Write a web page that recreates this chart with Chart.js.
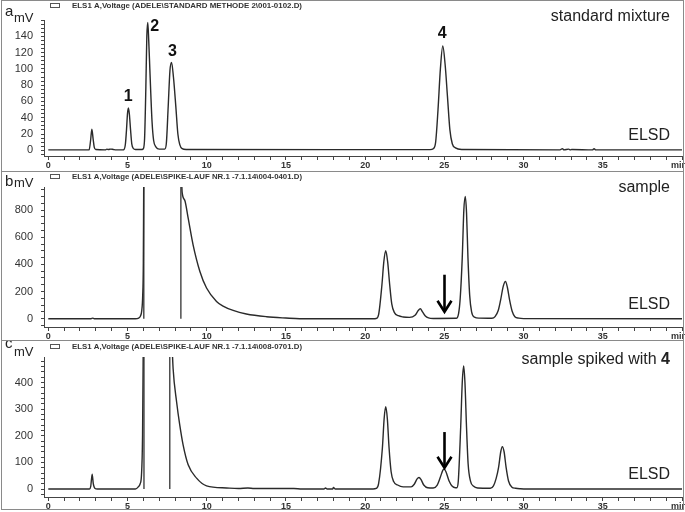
<!DOCTYPE html>
<html><head><meta charset="utf-8">
<script src="https://cdn.jsdelivr.net/npm/chart.js@4/dist/chart.umd.min.js"></script>
<style>
html,body{margin:0;padding:0;background:#fff;}
#wrap{position:relative;width:685px;height:512px;overflow:hidden;}
canvas{position:absolute;left:0;}
.frame{position:absolute;left:1px;top:0;width:681px;height:508px;border:1px solid #8a8a8a;pointer-events:none;}
.sep{position:absolute;left:1px;width:683px;height:1px;background:#8a8a8a;}
</style></head><body>
<div id="wrap">
<canvas id="ca" width="685" height="171" style="top:0"></canvas>
<canvas id="cb" width="685" height="169" style="top:171px"></canvas>
<canvas id="cc" width="685" height="170" style="top:340px"></canvas>
<div class="frame"></div>
<div class="sep" style="top:171px"></div>
<div class="sep" style="top:340px"></div>
</div>
<script>
// ---------- DATA (time in min, signal in mV) ----------
const traceA = [[0,0.5],[2.5,0.5],[2.58,0.6],[2.67,12],[2.75,26],[2.83,14],[2.9,4],[3.0,1],[3.6,0.5],[3.7,1.5],[3.8,1],[3.95,1.5],[4.1,1],[4.3,0.5],
  [4.7,0.5],[4.78,1],[4.87,8],[4.94,26],[5.0,45],[5.06,52],[5.12,44],[5.19,26],[5.27,8],[5.38,2],[5.5,1],
  [5.92,1],[6.0,2],[6.08,15],[6.16,78],[6.22,140],[6.28,157],[6.34,135],[6.41,100],[6.47,70],[6.55,35],[6.65,12],[6.8,4],[7.0,1.5],
  [7.35,1.5],[7.45,8],[7.57,54],[7.68,98],[7.78,108],[7.9,90],[8.05,54],[8.18,20],[8.3,7],[8.45,2],[8.7,1],
  [24.1,0.8],[24.3,2],[24.45,10],[24.6,50],[24.75,100],[24.9,128],[25.05,105],[25.2,65],[25.35,25],[25.5,8],[25.7,3],[26.1,1],
  [32.3,0.5],[32.45,2],[32.55,0.5],[32.85,1.5],[32.95,0.5],[33.05,1],[34.35,0.5],[34.45,2],[34.55,0.5],[40,0.5]];

const traceB = [[0,0],[2.7,0],[2.8,4],[2.9,0],[5.5,0],[5.7,5],[5.82,20],[5.9,60],[5.96,170],[6.0,420],[6.02,900],[6.03,1100],
  [8.38,1100],[8.45,930],[8.62,870],[8.83,740],[9.14,544],[9.57,348],[9.99,226],[10.62,127],[11.0,95],[11.67,61],[12.5,35],[13.77,15],[15.0,5],[15.87,0],
  [20.5,0],[20.7,2],[20.85,30],[21.06,250],[21.18,420],[21.3,500],[21.42,420],[21.55,250],[21.68,110],[21.85,45],[22.1,22],[22.4,13],[22.8,10],
  [23.15,25],[23.35,60],[23.48,73],[23.62,50],[23.8,20],[24.0,6],[24.3,2],
  [25.75,3],[25.9,40],[26.0,150],[26.13,450],[26.23,800],[26.32,900],[26.4,780],[26.49,450],[26.6,170],[26.72,50],[26.9,12],[27.2,4],
  [28.0,3],[28.2,15],[28.4,60],[28.55,137],[28.72,240],[28.86,274],[28.98,230],[29.12,137],[29.28,55],[29.45,15],[29.7,4],[30,1],[40,0]];

const traceC = [[0,0],[2.6,0],[2.68,10],[2.77,56],[2.84,20],[2.95,2],[3.1,0],[5.5,0],[5.68,8],[5.8,20],[5.88,50],[5.95,200],[5.99,500],[6.02,700],
  [7.7,700],[7.8,560],[7.88,452],[8.1,327],[8.3,240],[8.51,166],[8.83,91],[9.36,41],[9.99,12],[11.25,4],[12.0,2],[12.6,4],[13.0,2],[15.5,2],[16.0,0],
  [17.4,0],[17.5,4],[17.6,0],[17.95,0],[18.0,6],[18.1,0],
  [20.5,0],[20.7,2],[20.85,20],[21.09,155],[21.2,265],[21.3,309],[21.4,265],[21.51,155],[21.64,65],[21.8,28],[22.05,15],[22.4,8],
  [22.9,8],[23.1,18],[23.28,38],[23.4,43],[23.52,36],[23.7,15],[23.95,5],
  [24.3,4],[24.55,15],[24.75,45],[24.9,70],[24.98,75],[25.1,65],[25.3,30],[25.5,10],[25.7,5],
  [25.8,5],[25.88,30],[26.03,231],[26.13,400],[26.22,462],[26.3,400],[26.4,231],[26.5,95],[26.65,30],[26.85,10],[27.1,4],
  [27.9,3],[28.1,12],[28.27,40],[28.42,80],[28.56,140],[28.66,159],[28.77,140],[28.9,80],[29.05,30],[29.25,8],[29.5,3],[29.8,1],[30.2,0],[40,0]];

const markerTimesB = [6.03, 8.37];
const markerTimesC = [6.04, 7.67];

const peakNamesA = ['1','2','3','4'];
const peakTimesA = [5.05, 6.71, 7.83, 24.87];
const peakLevelsA = [66, 152, 121, 143];

const arrowTime = 25;
const arrowB = [324, 51];   // mV from, to
const arrowC = [214, 80];

const xTickLabels = [0,5,10,15,20,25,30,35];
const yTickLabelsA = [0,20,40,60,80,100,120,140];
const yTickLabelsB = [0,200,400,600,800];
const yTickLabelsC = [0,100,200,300,400];

const headerA = 'ELS1 A,Voltage (ADELE\\STANDARD METHODE 2\\001-0102.D)';
const headerB = 'ELS1 A,Voltage (ADELE\\SPIKE-LAUF NR.1 -7.1.14\\004-0401.D)';
const headerC = 'ELS1 A,Voltage (ADELE\\SPIKE-LAUF NR.1 -7.1.14\\008-0701.D)';

// ---------- RENDERING ----------
const FONT = '"Liberation Sans", Arial, Helvetica, sans-serif';
Chart.defaults.font.family = FONT;

const X_MIN = -0.27, X_MAX = 40;
const xTickValues = []; for (let v = 0; v <= 40; v++) xTickValues.push(v);

function yTicks(min, max, step){ const t=[]; for(let v=Math.ceil(min/step)*step; v<=max; v+=step) t.push(v); return t; }

const overlay = {
  id: 'overlay',
  afterDatasetsDraw(chart, args, o) {
    const ctx = chart.ctx, xs = chart.scales.x, ys = chart.scales.y;
    ctx.save();
    ctx.textBaseline = 'middle';
    ctx.textAlign = 'left';
    ctx.fillStyle = '#222';
    ctx.font = '15px ' + FONT;
    ctx.fillText(o.letter, 5, o.letterY);
    ctx.font = '13px ' + FONT;
    ctx.fillText('mV', 14, o.mvY);
    // header legend
    ctx.strokeStyle = '#555'; ctx.lineWidth = 1;
    ctx.strokeRect(50.5, o.headerY - 2.5, 9, 4);
    ctx.fillStyle = '#333';
    ctx.font = 'bold 8px ' + FONT;
    ctx.fillText(o.header, 72, o.headerY, 230);
    // title
    ctx.fillStyle = '#222';
    ctx.textAlign = 'right';
    let right = 670;
    if (o.titleBold) {
      ctx.font = 'bold 16px ' + FONT;
      ctx.fillText(o.titleBold, right, o.titleY);
      right -= ctx.measureText(o.titleBold).width;
    }
    ctx.font = '16px ' + FONT;
    ctx.fillText(o.title, right, o.titleY);
    ctx.fillText('ELSD', 670, o.elsdY);
    // min label
    ctx.textAlign = 'left';
    ctx.fillStyle = '#333';
    ctx.font = 'bold 9px ' + FONT;
    ctx.fillText('min', 671, xs.top + 9.5);
    // peak labels
    if (o.peaks) {
      ctx.fillStyle = '#111';
      ctx.font = 'bold 16px ' + FONT;
      ctx.textAlign = 'center';
      o.peaks.names.forEach((n, i) => {
        ctx.fillText(n, xs.getPixelForValue(o.peaks.times[i]), ys.getPixelForValue(o.peaks.levels[i]));
      });
    }
    // arrow
    if (o.arrow) {
      const x = Math.round(xs.getPixelForValue(arrowTime)) + 0.5;
      const y1 = ys.getPixelForValue(o.arrow[0]);
      const y2 = ys.getPixelForValue(o.arrow[1]);
      ctx.strokeStyle = '#000'; ctx.lineWidth = 2.6; ctx.lineCap = 'butt';
      ctx.beginPath(); ctx.moveTo(x, y1); ctx.lineTo(x, y2 - 1); ctx.stroke();
      ctx.beginPath(); ctx.moveTo(x - 7, y2 - 11); ctx.lineTo(x, y2); ctx.lineTo(x + 7, y2 - 11); ctx.stroke();
    }
    ctx.restore();
  }
};

function makeChart(id, trace, markers, yMin, yMax, yStep, yLabels, padTop, xHeight, ov) {
  const datasets = [{
    data: trace.map(p => ({x: p[0], y: p[1]})),
    borderColor: '#2a2a2a', borderWidth: 1.4, pointRadius: 0,
    cubicInterpolationMode: 'monotone', fill: false
  }];
  if (markers) {
    const md = [];
    markers.forEach(t => { md.push({x: t, y: 0}, {x: t, y: yMax + 50}, {x: t, y: null}); });
    datasets.push({ data: md, borderColor: '#333', borderWidth: 1.3, pointRadius: 0, tension: 0, spanGaps: false });
  }
  const yVals = yTicks(yMin, yMax, yStep);
  return new Chart(document.getElementById(id), {
    type: 'line',
    data: { datasets },
    options: {
      responsive: false, animation: false, devicePixelRatio: 1,
      layout: { padding: { top: padTop, right: 3, left: 0, bottom: 0 } },
      plugins: { legend: { display: false }, tooltip: { enabled: false }, overlay: ov },
      scales: {
        x: {
          type: 'linear', min: X_MIN, max: X_MAX, bounds: 'data',
          afterBuildTicks: s => { s.min = X_MIN; s.max = X_MAX; s.ticks = xTickValues.map(v => ({value: v})); },
          afterFit: s => { s.height = xHeight; s.paddingLeft = 0; s.paddingRight = 0; s.paddingTop = 0; s.paddingBottom = 0; },
          grid: { drawOnChartArea: false, drawTicks: true, tickLength: 4, color: '#444', lineWidth: 1 },
          border: { display: true, color: '#444', width: 1 },
          ticks: { autoSkip: false, maxRotation: 0, minRotation: 0, padding: 0, color: '#333',
            font: { size: 9, weight: 'bold' },
            callback: v => xTickLabels.includes(v) ? String(v) : '' }
        },
        y: {
          type: 'linear', min: yMin, max: yMax, bounds: 'data',
          afterBuildTicks: s => { s.min = yMin; s.max = yMax; s.ticks = yVals.map(v => ({value: v})); },
          afterFit: s => { s.width = 44; s.paddingTop = 0; s.paddingBottom = 0; s.paddingLeft = 0; s.paddingRight = 0; },
          grid: { drawOnChartArea: false, drawTicks: true, tickLength: 3, color: '#444', lineWidth: 1 },
          border: { display: true, color: '#444', width: 1 },
          ticks: { autoSkip: false, padding: 8, color: '#333', font: { size: 11 },
            callback: v => yLabels.includes(v) ? String(v) : '' }
        }
      }
    },
    plugins: [overlay]
  });
}

makeChart('ca', traceA, null, -7, 160, 5, yTickLabelsA, 20, 15, {
  letter: 'a', letterY: 12, mvY: 18, header: headerA, headerY: 6,
  title: 'standard mixture', titleY: 17, elsdY: 136,
  peaks: { names: peakNamesA, times: peakTimesA, levels: peakLevelsA }
});
makeChart('cb', traceB, markerTimesB, -61, 970, 50, yTickLabelsB, 16, 13, {
  letter: 'b', letterY: 11, mvY: 12, header: headerB, headerY: 6,
  title: 'sample', titleY: 17, elsdY: 134, arrow: arrowB
});
makeChart('cc', traceC, markerTimesC, -30, 496, 20, yTickLabelsC, 17, 13, {
  letter: 'c', letterY: 4, mvY: 12, header: headerC, headerY: 7,
  title: 'sample spiked with ', titleBold: '4', titleY: 20, elsdY: 135, arrow: arrowC
});
</script>
</body></html>
